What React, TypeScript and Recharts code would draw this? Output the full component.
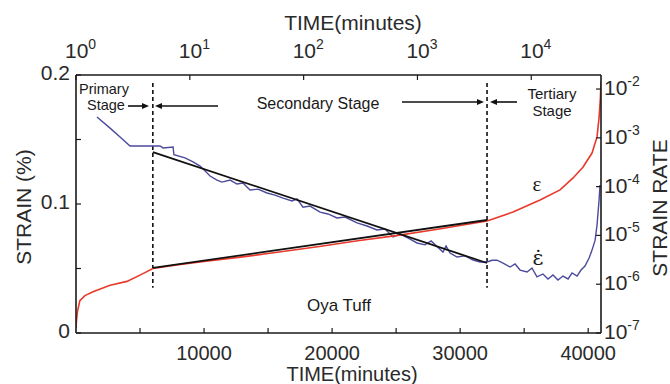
import React from 'react';
import { LineChart, Line, XAxis, YAxis, ReferenceLine, Customized } from 'recharts';

// strain curve (left axis, %)
const redTime = [0, 40, 120, 300, 700, 1330, 2660, 3980, 5230, 6000, 8000, 10000, 13000, 16000, 19000, 22000, 25000, 28000, 32100, 34130, 36240, 37800, 38820, 39600, 40300, 40690, 40850, 40950, 41000];
const redStrain = [0.004, 0.010, 0.017, 0.025, 0.029, 0.032, 0.037, 0.040, 0.046, 0.050, 0.053, 0.0555, 0.059, 0.063, 0.067, 0.0715, 0.0755, 0.080, 0.0868, 0.0938, 0.1031, 0.1109, 0.1202, 0.1287, 0.1395, 0.152, 0.167, 0.182, 0.195];

// strain rate curve (right axis, log)
const blueTime = [1640, 2660, 3440, 4220, 5000, 5780, 6560, 6800, 7580, 7650, 8510, 9140, 9690, 10470, 11010, 11400, 12030, 12570, 13040, 13590, 14210, 14920, 15540, 16170, 16870, 17260, 17730, 18280, 19060, 19680, 20380, 21010, 21950, 22730, 23510, 24130, 24760, 25300, 26090, 26630, 27260, 27730, 28660, 28900, 29210, 29760, 30380, 31010, 31550, 32100, 32490, 32880, 33350, 33900, 34290, 34680, 35230, 35610, 36000, 36470, 36860, 37250, 37640, 38030, 38430, 38740, 39130, 39440, 39750, 40070, 40300, 40540, 40690, 40850, 40920];
const blueRate = [2.67e-3, 1.58e-3, 1.04e-3, 6.8e-4, 6.8e-4, 6.8e-4, 6.8e-4, 6.2e-4, 6.5e-4, 4.5e-4, 3.9e-4, 3.2e-4, 2.64e-4, 1.65e-4, 1.36e-4, 1.24e-4, 1.36e-4, 1.13e-4, 1.19e-4, 8.5e-5, 8.9e-5, 7.4e-5, 6.7e-5, 5.8e-5, 5.1e-5, 5.6e-5, 3.8e-5, 4.0e-5, 3.0e-5, 2.75e-5, 2.28e-5, 2.38e-5, 1.8e-5, 1.56e-5, 1.29e-5, 1.35e-5, 9.3e-6, 1.07e-5, 8.4e-6, 7.0e-6, 6.4e-6, 7.7e-6, 4.57e-6, 6.1e-6, 4.35e-6, 3.6e-6, 3.8e-6, 3.13e-6, 2.85e-6, 2.85e-6, 3.1e-6, 3.1e-6, 2.7e-6, 2.25e-6, 2.6e-6, 1.95e-6, 1.78e-6, 2.15e-6, 1.41e-6, 1.62e-6, 1.28e-6, 1.55e-6, 1.22e-6, 1.47e-6, 1.28e-6, 1.7e-6, 1.47e-6, 1.95e-6, 2.36e-6, 3.44e-6, 5.0e-6, 8.0e-6, 1.63e-5, 5.3e-5, 1.08e-4];

// secondary stage fits
const fitTime = [6000, 32100];
const strainFit = [0.0504, 0.0876];
const rateFit = [5.1e-4, 2.72e-6];
const stageBounds = [6000, 32100];

// ticks
const bottomTicks = [5000, 10000, 15000, 20000, 25000, 30000, 35000, 40000];
const bottomLabels = [10000, 20000, 30000, 40000];
const leftTicks = [0, 0.05, 0.1, 0.15, 0.2];
const leftLabels = [0, 0.1, 0.2];
const topTicks = [1, 10, 100, 1000, 10000];
const rightTicks = [1e-7, 1e-6, 1e-5, 1e-4, 1e-3, 1e-2];

const redData = redTime.map((t, i) => ({ t, v: redStrain[i] }));
const blueData = blueTime.map((t, i) => ({ t, v: blueRate[i] }));
const strainFitData = fitTime.map((t, i) => ({ t, v: strainFit[i] }));
const rateFitData = fitTime.map((t, i) => ({ t, v: rateFit[i] }));
// invisible carrier so the log-time axis on top gets drawn
const topAxisData = topTicks.map((t) => ({ t, v: 0.1 }));

const FONT = 'Liberation Sans, Arial, sans-serif';
const TXT = '#2a2a2a';
const AX = '#1a1a1a';

const BottomTick = ({ x, y, payload }: any) => (
  <g>
    <line x1={x} x2={x} y1={y} y2={y - 5} stroke={AX} strokeWidth={1.2} />
    {bottomLabels.includes(payload.value) && (
      <text x={x} y={y + 27} textAnchor="middle" fontSize={20} fontFamily={FONT} fill={TXT}>{payload.value}</text>
    )}
  </g>
);

const LeftTick = ({ x, y, payload }: any) => (
  <g>
    <line x1={x} x2={x + 5} y1={y} y2={y} stroke={AX} strokeWidth={1.2} />
    {leftLabels.includes(payload.value) && (
      <text x={x - 6} y={y + 5} textAnchor="end" fontSize={21} fontFamily={FONT} fill={TXT}>{String(payload.value)}</text>
    )}
  </g>
);

const TopTick = ({ x, y, payload }: any) => (
  <g>
    <line x1={x} x2={x} y1={y} y2={y + 5} stroke={AX} strokeWidth={1.2} />
    <text x={x - 11} y={y - 17} fontSize={21} fontFamily={FONT} fill={TXT}>
      10<tspan fontSize={14} dy={-9}>{Math.round(Math.log10(payload.value))}</tspan>
    </text>
  </g>
);

const RightTick = ({ x, y, payload }: any) => (
  <g>
    <line x1={x} x2={x - 5} y1={y} y2={y} stroke={AX} strokeWidth={1.2} />
    <text x={x + 3} y={y + 6} fontSize={21} fontFamily={FONT} fill={TXT}>
      10<tspan fontSize={14} dy={-9}>{Math.round(Math.log10(payload.value))}</tspan>
    </text>
  </g>
);

const Arrow = ({ x1, x2, y }: { x1: number; x2: number; y: number }) => {
  const d = x2 > x1 ? 1 : -1;
  return (
    <g>
      <line x1={x1} x2={x2 - d * 5} y1={y} y2={y} stroke="#111" strokeWidth={1.6} />
      <polygon points={`${x2},${y} ${x2 - d * 7},${y - 3} ${x2 - d * 7},${y + 3}`} fill="#111" />
    </g>
  );
};

const Annotations = () => (
  <g fontFamily={FONT} fill="#1a1a1a">
    <text x={353} y={30} textAnchor="middle" fontSize={21} fill={TXT}>TIME(minutes)</text>
    <text x={352} y={381} textAnchor="middle" fontSize={20} fill={TXT}>TIME(minutes)</text>
    <text x={31} y={207} textAnchor="middle" fontSize={21} fill={TXT} transform="rotate(-90 31 207)">STRAIN (%)</text>
    <text x={667} y={208} textAnchor="middle" fontSize={21} fill={TXT} transform="rotate(-90 667 208)">STRAIN RATE</text>
    <text x={79} y={94} fontSize={14.5}>Primary</text>
    <text x={87} y={110} fontSize={14.5}>Stage</text>
    <text x={318} y={109} textAnchor="middle" fontSize={16}>Secondary Stage</text>
    <text x={552} y={99} textAnchor="middle" fontSize={15}>Tertiary</text>
    <text x={552} y={116} textAnchor="middle" fontSize={15}>Stage</text>
    <text x={339} y={311} textAnchor="middle" fontSize={17}>Oya Tuff</text>
    <text x={537} y={191} textAnchor="middle" fontSize={21} fontFamily="Liberation Serif, serif">ε</text>
    <text x={538} y={265} textAnchor="middle" fontSize={21} fontFamily="DejaVu Serif, serif">ε̇</text>
    <Arrow x1={128} x2={149} y={106} />
    <Arrow x1={218} x2={155} y={106} />
    <Arrow x1={402} x2={484} y={102} />
    <Arrow x1={517} x2={490} y={102} />
  </g>
);

export default function App() {
  return (
    <div style={{ position: 'absolute', left: 0, top: 0, background: '#fff' }}>
      <LineChart width={670} height={384} margin={{ top: 0, right: 0, bottom: 0, left: 0 }}>
        <XAxis
          xAxisId="bottom"
          type="number"
          dataKey="t"
          domain={[0, 41000]}
          ticks={bottomTicks}
          interval={0}
          allowDataOverflow
          height={51}
          tickSize={0}
          tickMargin={0}
          tickLine={false}
          tick={<BottomTick />}
          axisLine={{ stroke: AX, strokeWidth: 1.6 }}
        />
        <XAxis
          xAxisId="top"
          orientation="top"
          type="number"
          dataKey="t"
          scale="log"
          domain={[1, 41000]}
          ticks={topTicks}
          interval={0}
          allowDataOverflow
          height={75}
          tickSize={0}
          tickMargin={0}
          tickLine={false}
          tick={<TopTick />}
          axisLine={{ stroke: AX, strokeWidth: 1.6 }}
        />
        <YAxis
          yAxisId="left"
          type="number"
          domain={[0, 0.2]}
          ticks={leftTicks}
          interval={0}
          allowDataOverflow
          width={76}
          tickSize={0}
          tickMargin={0}
          tickLine={false}
          tick={<LeftTick />}
          axisLine={{ stroke: AX, strokeWidth: 1.6 }}
        />
        <YAxis
          yAxisId="right"
          orientation="right"
          type="number"
          scale="log"
          domain={[1e-7, 0.0194]}
          ticks={rightTicks}
          interval={0}
          allowDataOverflow
          width={69}
          tickSize={0}
          tickMargin={0}
          tickLine={false}
          tick={<RightTick />}
          axisLine={{ stroke: AX, strokeWidth: 1.6 }}
        />
        {stageBounds.map((t) => (
          <ReferenceLine
            key={t}
            xAxisId="bottom"
            yAxisId="left"
            segment={[{ x: t, y: 0.1938 }, { x: t, y: 0.035 }]}
            stroke="#111"
            strokeWidth={1.6}
            strokeDasharray="4 3"
          />
        ))}
        <Line xAxisId="top" yAxisId="left" data={topAxisData} dataKey="v" type="linear" stroke="#fff" strokeOpacity={0} strokeWidth={0} dot={false} activeDot={false} isAnimationActive={false} />
        <Line xAxisId="bottom" yAxisId="right" data={blueData} dataKey="v" type="linear" stroke="#4b4a9c" strokeWidth={1.4} dot={false} isAnimationActive={false} />
        <Line xAxisId="bottom" yAxisId="left" data={redData} dataKey="v" type="linear" stroke="#e8392a" strokeWidth={1.6} dot={false} isAnimationActive={false} />
        <Line xAxisId="bottom" yAxisId="left" data={strainFitData} dataKey="v" type="linear" stroke="#111" strokeWidth={1.8} dot={false} isAnimationActive={false} />
        <Line xAxisId="bottom" yAxisId="right" data={rateFitData} dataKey="v" type="linear" stroke="#111" strokeWidth={1.8} dot={false} isAnimationActive={false} />
        <Customized component={<Annotations />} />
      </LineChart>
    </div>
  );
}
